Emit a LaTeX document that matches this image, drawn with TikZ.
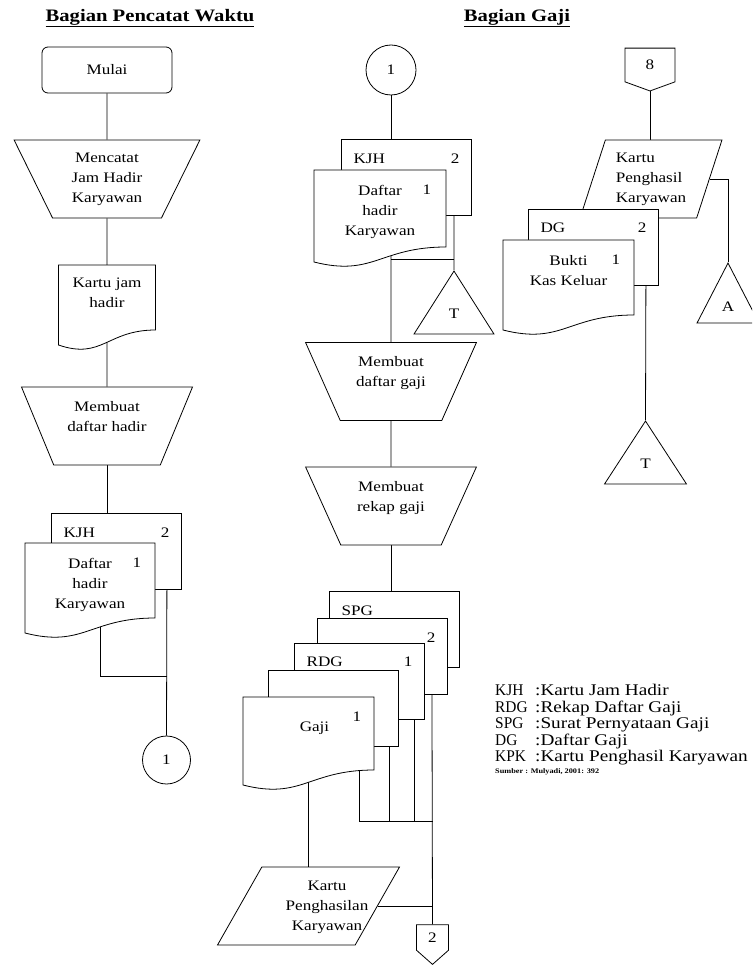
\documentclass[tikz,border=0pt]{standalone}
\usepackage{fontspec}
\usepackage{graphicx}
\setmainfont{Liberation Serif}[FakeStretch=1.18]
\usetikzlibrary{calc,positioning,shapes.geometric,shapes.symbols}
\pgfdeclarelayer{background}
\pgfsetlayers{background,main}
\newcommand{\singkat}[1]{\makebox[40pt][l]{\scalebox{0.8}[1]{#1}}}
\tikzset{
  every node/.style={font=\fontsize{14.5}{20}\selectfont},
  line/.style={draw, line width=0.8pt},
  box/.style={draw, fill=white, line width=0.8pt},
  terminal/.style={box, rounded corners=6pt, minimum width=130pt, minimum height=46pt},
  manual/.style={box, trapezium, shape border rotate=180, trapezium stretches,
    trapezium angle=65, minimum width=#1, minimum height=78pt, align=center, inner sep=2pt},
  input/.style 2 args={box, trapezium, trapezium stretches, trapezium left angle=#1,
    trapezium right angle=#2, minimum height=78pt, inner sep=2pt},
  sheet/.style 2 args={box, minimum width=130pt, minimum height=76pt,
    label={[anchor=base west, xshift=9pt, yshift=-24pt]north west:#1},
    label={[anchor=base east, xshift=-9pt, yshift=-24pt]north east:#2}},
  doctext/.style={anchor=north, align=center, inner sep=0pt},
  docnum/.style={anchor=base},
  store/.style={box, isosceles triangle, shape border rotate=90,
    isosceles triangle stretches, minimum width=#1, minimum height=63pt, inner sep=2pt},
  connector/.style={box, circle, minimum size=#1, inner sep=0pt},
  offpage/.style n args={3}{box, signal, signal to=south, signal from=nowhere,
    minimum width=#1, minimum height=#2, signal pointer angle=#3, inner sep=2pt},
  pics/paper/.style n args={2}{code={
    \draw[box] (0,0) coordinate (-nw) -- (#1,0) coordinate (-ne)
      -- (#1,#2) .. controls ({0.5*#1},#2) and ({0.45*#1},{#2+30}) .. (0,{#2+15}) -- cycle;
    \coordinate (-n) at ({0.5*#1},0);
  }},
}
\begin{document}
\begin{tikzpicture}[x=1pt, y=-1pt]
\useasboundingbox (0,0) rectangle (752,968);
\clip (0,0) rectangle (752,968);

% judul
\node[font=\bfseries\fontsize{17.5}{20}\selectfont] (judul1) at (150,18) {\underline{Bagian Pencatat Waktu}};
\node[font=\bfseries\fontsize{17.5}{20}\selectfont] (judul2) at (517,18) {\underline{Bagian Gaji}};

% bagian pencatat waktu
\node[terminal] (mulai) at (107,70) {Mulai};
\node[manual=186pt] (catat) at (107,179) {Mencatat\\Jam Hadir\\Karyawan};
\pic (kartu) at (58.5,265) {paper={97}{65}};
\node[doctext] (kartut) at ([shift={(0,13)}]kartu-n) {Kartu jam\\hadir};
\node[manual=171pt] (buatdh) at (107,426) {Membuat\\daftar hadir\\\mbox{}};
\node[sheet={KJH}{2}] (kjh1) at (116.5,551.5) {};
\pic (dh1) at (25,543) {paper={130}{75}};
\node[doctext] (dh1t) at ([shift={(0,15)}]dh1-n) {Daftar\\hadir\\Karyawan};
\node[docnum] (dh1n) at ([shift={(-18,24.5)}]dh1-ne) {1};
\node[connector=48pt] (sam1) at (166.5,760) {1};
\coordinate (j1) at (166.5,676);

% bagian gaji
\node[connector=50pt] (mulai2) at (391,70) {1};
\node[sheet={KJH}{2}] (kjh2) at (406.5,177.5) {};
\pic (dh2) at (314,170) {paper={132}{77}};
\node[doctext] (dh2t) at ([shift={(0,15)}]dh2-n) {Daftar\\hadir\\Karyawan};
\node[docnum] (dh2n) at ([shift={(-19,24.5)}]dh2-ne) {1};
\node[store=80pt, anchor=apex] (t1) at (454,270) {T};
\coordinate (j2) at (454,259);
\node[manual=171pt] (buatdg) at (391,381.5) {Membuat\\daftar gaji\\\mbox{}};
\node[manual=171pt] (buatrg) at (391,506) {Membuat\\rekap gaji\\\mbox{}};
\node[sheet={SPG}{}] (spg) at (394.5,629.5) {};
\node[sheet={}{2}] (spg2) at (382.5,656.5) {};
\node[sheet={RDG}{1}] (rdg) at (359.5,681) {};
\node[sheet={}{}] (rdg2) at (333.5,708.5) {};
\pic (gaji) at (243,697) {paper={131}{73}};
\node[docnum] (gajin) at ([shift={(-17,24.5)}]gaji-ne) {1};
\node (gajit) at ([shift={(6,31)}]gaji-n) {Gaji};
\coordinate (bus) at (432.5,821);
\node[input={64.6}{115.4}, minimum width=182pt] (kpk) at (308.5,906) {};
\node[align=center] (kpkt) at (327,907) {Kartu\\Penghasilan\\Karyawan};
\node[offpage={32pt}{31pt}{97}] (ke2) at (432.5,937.5) {2};

\node[offpage={50pt}{36pt}{140}] (dari8) at (650,65) {8};
\node[input={70}{110}, minimum width=142pt, align=left] (kph) at (651,179) {Kartu\\Penghasil\\Karyawan};
\node[sheet={DG}{2}] (dg) at (593.5,247) {};
\pic (bkk) at (503,240) {paper={131}{75}};
\node[doctext] (bkkt) at ([shift={(0,15)}]bkk-n) {Bukti\\Kas Keluar};
\node[docnum] (bkkn) at ([shift={(-18,24.5)}]bkk-ne) {1};
\node[store=82pt, anchor=apex] (t2) at (645.5,420) {T};
\node[store=62pt, minimum height=60pt, anchor=apex] (arsip) at (728,262) {A};

% keterangan
\node[anchor=north west, align=left, inner sep=0pt, font=\fontsize{16.3}{16.5}\selectfont] (ket) at (495,684) {%
  \singkat{KJH}:Kartu Jam Hadir\\
  \singkat{RDG}:Rekap Daftar Gaji\\
  \singkat{SPG}:Surat Pernyataan Gaji\\
  \singkat{DG}:Daftar Gaji\\
  \singkat{KPK}:Kartu Penghasil Karyawan};
\node[anchor=west, inner sep=0pt, font=\bfseries\fontsize{7}{9}\selectfont] (sumber) at (495,772) {Sumber : Mulyadi, 2001: 392};

% garis alir
\begin{pgfonlayer}{background}
\draw[line] (mulai.south) -- (catat.north);
\draw[line] (catat.south) -- (kartu-n);
\draw[line] (kartu-n) -- (buatdh.north);
\draw[line] (buatdh.south) -- (buatdh.south |- kjh1.north);
\draw[line] ([xshift=10pt]dh1-n) |- (j1);
\draw[line] ([xshift=-15pt]kjh1.south east) -- (sam1.north);

\draw[line] (mulai2.south) -- (mulai2.south |- kjh2.north);
\draw[line] ([xshift=11pt]dh2-n) -- (buatdg.north);
\draw[line] ([xshift=-18pt]kjh2.south east) -- (t1.apex);
\draw[line] (j2) -- (j2 -| buatdg.north);
\draw[line] (buatdg.south) -- (buatrg.north);
\draw[line] (buatrg.south) -- (buatrg.south |- spg.north);
\draw[line] (gaji-n) -- (kpk.north);
\draw[line] ([xshift=-40pt]rdg2.south east) |- (bus);
\draw[line] ([xshift=-36pt]rdg.south east) -- ([xshift=-36pt]rdg.south east |- bus);
\draw[line] ([xshift=-34pt]spg2.south east) -- ([xshift=-34pt]spg2.south east |- bus);
\draw[line] ([xshift=-28pt]spg.south east) -- (ke2.north);
\draw[line] (kpk.east) -- (kpk.east -| ke2.north);

\draw[line] (dari8.south) -- (dari8.south |- kph.north);
\draw[line] ([xshift=-13pt]dg.south east) -- (t2.apex);
\draw[line] (kph.east) -| (arsip.apex);
\end{pgfonlayer}
\end{tikzpicture}
\end{document}
